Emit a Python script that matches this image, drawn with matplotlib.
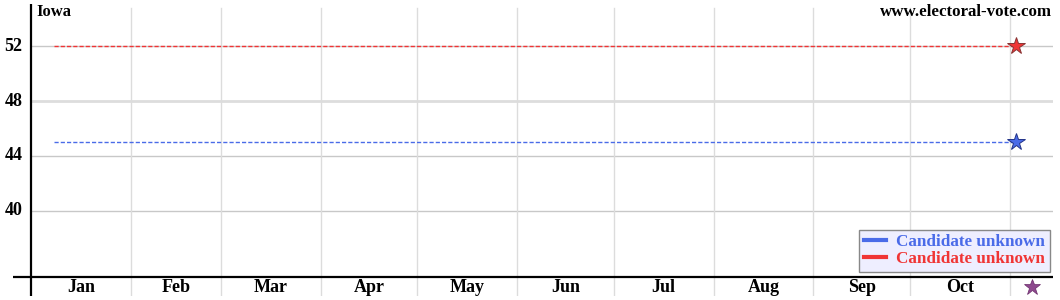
import numpy as np
import pandas as pd
import matplotlib
matplotlib.use("Agg")
import matplotlib.pyplot as plt
from matplotlib.lines import Line2D

plt.rcParams['font.family'] = ['Liberation Serif', 'DejaVu Serif']
plt.rcParams['font.weight'] = 'bold'

# data
state = "Iowa"
months = ["Jan", "Feb", "Mar", "Apr", "May", "Jun", "Jul", "Aug", "Sep", "Oct"]
dem_dates = ["2023-01-08", "2023-11-03"]
dem_values = [45, 45]
gop_dates = ["2023-01-08", "2023-11-03"]
gop_values = [52, 52]
election_date = "2023-11-08"
y_ticks = [40, 44, 48, 52]
legend_labels = ["Candidate unknown", "Candidate unknown"]

BLUE = "#4a6be8"
RED = "#f03535"


def doy(d):
    return pd.Timestamp(d).dayofyear - 1


month_starts = [doy(f"2023-{m:02d}-01") for m in range(1, 12)]
month_mid = [(a + b) / 2 for a, b in zip(month_starts[:-1], month_starts[1:])]

fig = plt.figure(figsize=(10.6, 3.0), dpi=100)
ax = fig.add_axes([13 / 1060, 4 / 300, 1040 / 1060, 292 / 300])
xmin, xmax = -5.6, 317.4
ymin, ymax = 33.75, 55.1
ax.set_xlim(xmin, xmax)
ax.set_ylim(ymin, ymax)
ax.axis('off')

x_axis_y = 35.15

# grid
for v in y_ticks:
    lw, col = (2.0, "#dddddd") if v == 48 else (1.0, "#c8c8c8")
    ax.plot([0, xmax], [v, v], color=col, lw=lw, zorder=1)
    ax.text(-2.6, v, str(v), ha='right', va='center', fontsize=13, fontweight='bold')
for m in month_starts[1:]:
    ax.plot([m, m], [ymin, 54.8], color="#dcdcdc", lw=1, zorder=1)

# axes lines
ax.plot([xmin, xmax], [x_axis_y, x_axis_y], color='black', lw=1.6, zorder=3)
ax.plot([0, 0], [ymin, ymax], color='black', lw=1.6, zorder=3)

for name, xm in zip(months, month_mid):
    ax.text(xm, 34.4, name, ha='center', va='center', fontsize=13, fontweight='bold')

# series
dx = [doy(d) for d in dem_dates]
gx = [doy(d) for d in gop_dates]
ax.plot(gx, gop_values, color=RED, lw=1, ls=(0, (3, 1.5)), zorder=4)
ax.plot(dx, dem_values, color=BLUE, lw=1, ls=(0, (3, 1.5)), zorder=4)
ax.plot(gx[-1], gop_values[-1], marker='*', ms=13, color=RED, mec="#883333", mew=0.7, zorder=5)
ax.plot(dx[-1], dem_values[-1], marker='*', ms=13, color=BLUE, mec="#223388", mew=0.7, zorder=5)
ax.plot(doy(election_date), 34.4, marker='*', ms=12, color="#8e4a8e", mec="#6a2a6a", mew=0.5,
        zorder=5, clip_on=False)

# titles
fig.text(36 / 1060, 1 - 12 / 300, state, ha='left', va='center', fontsize=12, fontweight='bold')
fig.text(1052 / 1060, 1 - 12 / 300, "www.electoral-vote.com", ha='right', va='center',
         fontsize=12.2, fontweight='bold')

# legend
handles = [Line2D([], [], color=BLUE, lw=3), Line2D([], [], color=RED, lw=3)]
leg = ax.legend(handles, legend_labels, loc='lower right', bbox_to_anchor=(1050 / 1060, 28 / 300),
                bbox_transform=fig.transFigure, fontsize=12.3, frameon=True, fancybox=False,
                handlelength=1.3, handletextpad=0.6, borderpad=0.28, labelspacing=0.05,
                borderaxespad=0)
leg.get_frame().set_facecolor("#eeeeff")
leg.get_frame().set_edgecolor("#888888")
leg.get_frame().set_linewidth(1)
leg.get_frame().set_alpha(1)
for t, c in zip(leg.get_texts(), [BLUE, RED]):
    t.set_color(c)
    t.set_fontweight('bold')
leg.set_zorder(6)

fig.savefig("out.png", dpi=100)
